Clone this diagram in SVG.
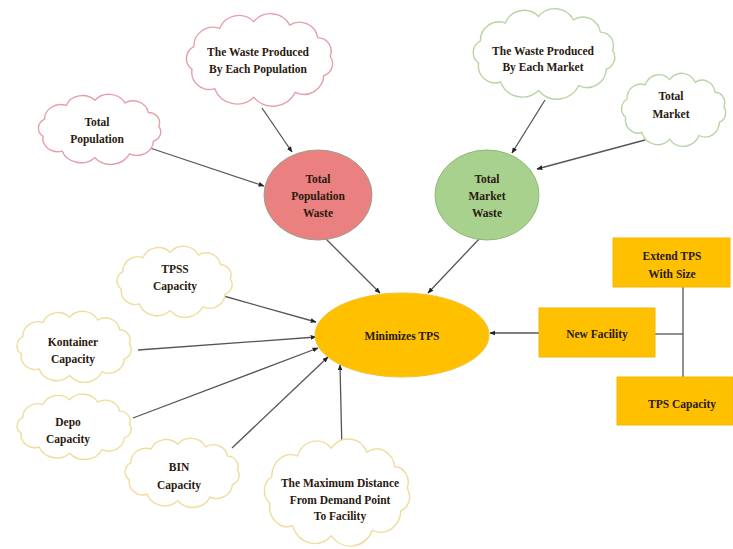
<svg xmlns="http://www.w3.org/2000/svg" xmlns:xlink="http://www.w3.org/1999/xlink" width="733" height="549" viewBox="0 0 733 549">
<style>
  text { font-family: "Liberation Serif", "DejaVu Serif", serif; font-weight: bold; font-size: 11.5px; fill: #2a1a10; text-anchor: middle; }
  .cl { fill: #ffffff; stroke-width: 1.4; }
  .red { stroke: #e4a0a8; }
  .grn { stroke: #b8d4a4; }
  .yel { stroke: #f0dc9c; }
  .conn { stroke: #555555; stroke-width: 1.3; fill: none; }
  .arr { marker-end: url(#ah); }
  .box { fill: #ffc000; stroke: #f2b800; stroke-width: 1; }
</style>
<defs>
  <marker id="ah" viewBox="0 0 10 10" refX="9" refY="5" markerWidth="6" markerHeight="6" orient="auto" markerUnits="userSpaceOnUse">
    <path d="M0,1 L10,5 L0,9 Z" fill="#222222"/>
  </marker>
  <symbol id="cloud" viewBox="0 0 200 120" preserveAspectRatio="none" overflow="visible">
    <path vector-effect="non-scaling-stroke" d="M17.3,43.6 A24,24 0 0 1 49.5,20.7 A26,26 0 0 1 92.3,12.2 A27,27 0 0 1 137.2,16.5 A23,23 0 0 1 172.1,32.4 A17,17 0 0 1 187.7,55.8 A16,16 0 0 1 179.7,80.3 A25,25 0 0 1 144,101.6 A31,31 0 0 1 92.3,107.8 A30,30 0 0 1 43.4,96.8 A22,22 0 0 1 15,72.4 A17,17 0 0 1 17.3,43.6 Z"/>
  </symbol>
</defs>
<rect width="733" height="549" fill="#ffffff"/>

<g id="connectors">
  <line class="conn arr" x1="150" y1="148" x2="264" y2="186"/>
  <line class="conn arr" x1="262" y1="108" x2="292" y2="152"/>
  <line class="conn arr" x1="545" y1="100" x2="512" y2="153"/>
  <line class="conn arr" x1="645" y1="140" x2="537" y2="169"/>
  <line class="conn arr" x1="325" y1="238" x2="380" y2="293"/>
  <line class="conn arr" x1="480" y1="238" x2="428" y2="293"/>
  <line class="conn arr" x1="220" y1="295" x2="316" y2="322"/>
  <line class="conn arr" x1="138" y1="350" x2="316" y2="337"/>
  <line class="conn arr" x1="133" y1="418" x2="318" y2="348"/>
  <line class="conn arr" x1="232" y1="448" x2="328" y2="357"/>
  <line class="conn arr" x1="342" y1="452" x2="340" y2="365"/>
  <line class="conn arr" x1="539" y1="333" x2="490" y2="333"/>
  <line class="conn" x1="655" y1="334" x2="683" y2="334"/>
  <line class="conn" x1="683" y1="287" x2="683" y2="377"/>
</g>

<g id="total-population">
  <use xlink:href="#cloud" class="cl red" x="33" y="93" width="134" height="72"/>
  <text x="97" y="126">Total</text>
  <text x="97" y="143">Population</text>
</g>
<g id="waste-population">
  <use xlink:href="#cloud" class="cl red" x="180" y="12" width="160" height="95"/>
  <text x="258" y="56">The Waste Produced</text>
  <text x="258" y="73">By Each Population</text>
</g>
<g id="waste-market">
  <use xlink:href="#cloud" class="cl grn" x="467" y="7" width="155" height="93"/>
  <text x="543" y="55">The Waste Produced</text>
  <text x="543" y="71">By Each Market</text>
</g>
<g id="total-market">
  <use xlink:href="#cloud" class="cl grn" x="617" y="72" width="114" height="75"/>
  <text x="671" y="100">Total</text>
  <text x="671" y="118">Market</text>
</g>

<g id="total-population-waste">
  <ellipse cx="318" cy="195" rx="54" ry="45" fill="#ea8080" stroke="#9aa08a" stroke-width="1"/>
  <text x="318" y="183">Total</text>
  <text x="318" y="200">Population</text>
  <text x="318" y="217">Waste</text>
</g>
<g id="total-market-waste">
  <ellipse cx="487" cy="195" rx="52" ry="45" fill="#a9d18e" stroke="#8fb878" stroke-width="1"/>
  <text x="487" y="183">Total</text>
  <text x="487" y="200">Market</text>
  <text x="487" y="217">Waste</text>
</g>

<g id="minimizes-tps">
  <ellipse cx="402" cy="335" rx="87" ry="42" fill="#ffc000" stroke="#f2c040" stroke-width="1"/>
  <text x="402" y="340">Minimizes TPS</text>
</g>

<g id="tpss-capacity">
  <use xlink:href="#cloud" class="cl yel" x="112" y="245" width="126" height="73"/>
  <text x="175" y="273">TPSS</text>
  <text x="175" y="290">Capacity</text>
</g>
<g id="kontainer-capacity">
  <use xlink:href="#cloud" class="cl yel" x="12" y="310" width="125" height="73"/>
  <text x="73" y="346">Kontainer</text>
  <text x="73" y="363">Capacity</text>
</g>
<g id="depo-capacity">
  <use xlink:href="#cloud" class="cl yel" x="12" y="393" width="125" height="67"/>
  <text x="68" y="426">Depo</text>
  <text x="68" y="443">Capacity</text>
</g>
<g id="bin-capacity">
  <use xlink:href="#cloud" class="cl yel" x="120" y="437" width="125" height="71"/>
  <text x="179" y="471">BIN</text>
  <text x="179" y="489">Capacity</text>
</g>
<g id="max-distance">
  <use xlink:href="#cloud" class="cl yel" x="258" y="437" width="159" height="110"/>
  <text x="340" y="487">The Maximum Distance</text>
  <text x="340" y="504">From Demand Point</text>
  <text x="340" y="520">To Facility</text>
</g>

<g id="extend-tps">
  <rect class="box" x="613" y="238" width="117" height="49"/>
  <text x="672" y="260">Extend TPS</text>
  <text x="672" y="278">With Size</text>
</g>
<g id="new-facility">
  <rect class="box" x="539" y="308" width="116" height="49"/>
  <text x="597" y="338">New Facility</text>
</g>
<g id="tps-capacity">
  <rect class="box" x="617" y="377" width="116" height="48"/>
  <text x="682" y="408">TPS Capacity</text>
</g>
</svg>
